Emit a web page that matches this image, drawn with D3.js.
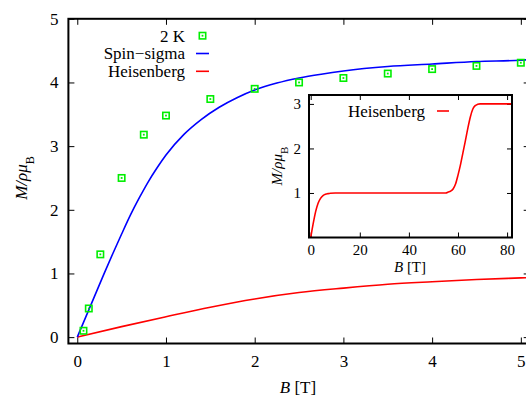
<!DOCTYPE html>
<html>
<head>
<meta charset="utf-8">
<script src="https://cdn.jsdelivr.net/npm/d3@7"></script>
<style>
  html, body { margin: 0; padding: 0; background: #fff; }
  svg { display: block; }
  svg text { font-family: "Liberation Serif", "Times New Roman", serif; }
</style>
</head>
<body>
<svg id="chart" width="526" height="396"></svg>
<script>
// ---- Main panel: magnetization vs field up to 5 T ----
const xTicks = [0, 1, 2, 3, 4, 5];
const yTicks = [0, 1, 2, 3, 4, 5];

// measured magnetization at 2 K
const dataB = [0.07, 0.13, 0.26, 0.5, 0.75, 1.0, 1.5, 2.0, 2.5, 3.0, 3.5, 4.0, 4.5, 5.0];
const dataM = [0.10, 0.45, 1.30, 2.50, 3.18, 3.48, 3.74, 3.90, 4.00, 4.07, 4.14, 4.21, 4.26, 4.31];

// spin-sigma model curve
const sigmaB = [0, 0.1, 0.2, 0.3, 0.4, 0.5, 0.6, 0.7, 0.8, 0.9, 1.0, 1.2, 1.4, 1.6, 1.8, 2.0, 2.25, 2.5, 2.75, 3.0, 3.5, 4.0, 4.5, 5.0, 5.1];
const sigmaM = [0, 0.33, 0.66, 0.99, 1.31, 1.62, 1.92, 2.19, 2.44, 2.66, 2.86, 3.18, 3.42, 3.61, 3.76, 3.88, 3.99, 4.07, 4.13, 4.18, 4.25, 4.29, 4.33, 4.35, 4.36];

// Heisenberg model curve (low-field part)
const heisB = [0, 0.5, 1.0, 1.5, 2.0, 2.5, 3.0, 3.5, 4.0, 4.5, 5.0, 5.1];
const heisM = [0, 0.165, 0.32, 0.47, 0.60, 0.70, 0.77, 0.83, 0.87, 0.905, 0.93, 0.935];

// ---- Inset: Heisenberg model up to 82 T ----
const insetXTicks = [0, 20, 40, 60, 80];
const insetYTicks = [1, 2, 3];
const insetB = [0, 0.5, 1, 1.5, 2, 3, 4, 5, 6, 7, 8, 10, 20, 30, 40, 50, 55, 56, 57, 58, 59, 60, 61, 62, 63, 64, 65, 66, 67, 68, 69, 75, 82];
const insetM = [0, 0.16, 0.31, 0.45, 0.58, 0.77, 0.88, 0.94, 0.97, 0.985, 0.995, 1.0, 1.0, 1.0, 1.0, 1.0, 1.0, 1.02, 1.04, 1.09, 1.2, 1.4, 1.63, 1.9, 2.17, 2.45, 2.7, 2.88, 2.96, 2.99, 3.0, 3.0, 3.0];

const svg = d3.select("#chart");
const BLUE = "#0000ff", RED = "#ff0000", GREEN = "#00ee00";
const SERIF = "'Liberation Serif', 'Times New Roman', serif";
const fmt = d3.format("d");

// ---------- main panel ----------
const M = { left: 68.4, right: 529.7, top: 18.8, bottom: 343.5 };
const x = d3.scaleLinear().domain([-0.1, 5.1]).range([M.left, M.right]);
const y = d3.scaleLinear().domain([-0.1, 5]).range([M.bottom, M.top]);

svg.append("clipPath").attr("id", "mainClip")
  .append("rect").attr("x", M.left).attr("y", M.top)
  .attr("width", M.right - M.left).attr("height", M.bottom - M.top);

function styleAxis(g, fontSize) {
  g.attr("font-size", fontSize).attr("font-family", SERIF);
  g.select(".domain").remove();
  g.selectAll(".tick line").attr("stroke", "#000").attr("stroke-width", 1);
  g.selectAll(".tick text").attr("fill", "#000")
    .style("font-family", SERIF).style("font-size", fontSize + "px");
}

svg.append("g").attr("transform", `translate(0,${M.bottom})`)
  .call(d3.axisBottom(x).tickValues(xTicks).tickFormat(fmt).tickSize(-6).tickSizeOuter(0).tickPadding(11))
  .call(g => styleAxis(g, 17));
svg.append("g").attr("transform", `translate(${M.left},0)`)
  .call(d3.axisLeft(y).tickValues(yTicks).tickFormat(fmt).tickSize(-6).tickSizeOuter(0).tickPadding(10))
  .call(g => styleAxis(g, 17));
svg.append("g").attr("transform", `translate(0,${M.top})`)
  .call(d3.axisTop(x).tickValues(xTicks).tickSize(-6).tickSizeOuter(0).tickFormat(""))
  .call(g => styleAxis(g, 17));
svg.append("g").attr("transform", `translate(${M.right},0)`)
  .call(d3.axisRight(y).tickValues(yTicks).tickSize(-6).tickSizeOuter(0).tickFormat(""))
  .call(g => styleAxis(g, 17));

const plot = svg.append("g").attr("clip-path", "url(#mainClip)");
const lineMain = d3.line().x(d => x(d[0])).y(d => y(d[1])).curve(d3.curveMonotoneX);

plot.append("path").datum(d3.zip(heisB, heisM))
  .attr("d", lineMain).attr("fill", "none").attr("stroke", RED).attr("stroke-width", 1.6);
plot.append("path").datum(d3.zip(sigmaB, sigmaM))
  .attr("d", lineMain).attr("fill", "none").attr("stroke", BLUE).attr("stroke-width", 1.6);

function marker(g, cx, cy) {
  g.append("rect").attr("x", cx - 3.2).attr("y", cy - 3.2).attr("width", 6.4).attr("height", 6.4)
    .attr("fill", "none").attr("stroke", GREEN).attr("stroke-width", 1.6);
  g.append("rect").attr("x", cx - 0.9).attr("y", cy - 0.9).attr("width", 1.8).attr("height", 1.8)
    .attr("fill", GREEN);
}
const pts = plot.append("g");
d3.zip(dataB, dataM).forEach(d => marker(pts, x(d[0]), y(d[1])));

svg.append("rect").attr("x", M.left).attr("y", M.top)
  .attr("width", M.right - M.left).attr("height", M.bottom - M.top)
  .attr("fill", "none").attr("stroke", "#000").attr("stroke-width", 2);

// legend
const legend = svg.append("g").style("font-size", "17px").attr("fill", "#000");
const legRows = [
  { label: "2 K", kind: "pt" },
  { label: "Spin\u2212sigma", kind: "line", color: BLUE },
  { label: "Heisenberg", kind: "line", color: RED }
];
legRows.forEach((r, i) => {
  const by = 41.5 + i * 17.8, cy = by - 5.8;
  legend.append("text").attr("x", 185).attr("y", by).attr("text-anchor", "end").text(r.label);
  if (r.kind === "pt") marker(legend, 202.5, cy);
  else legend.append("line").attr("x1", 196).attr("x2", 209).attr("y1", cy).attr("y2", cy)
    .attr("stroke", r.color).attr("stroke-width", 1.6);
});

// axis titles
const xt = svg.append("text").attr("x", 298).attr("y", 393).attr("text-anchor", "middle")
  .style("font-size", "17px");
xt.append("tspan").style("font-style", "italic").text("B");
xt.append("tspan").text(" [T]");

const yt = svg.append("text").attr("transform", "translate(27,178) rotate(-90)")
  .attr("text-anchor", "middle").style("font-size", "17px");
yt.append("tspan").style("font-style", "italic").text("M/\u03c1\u03bc");
yt.append("tspan").attr("baseline-shift", "sub").style("font-size", "12px").text("B");

// ---------- inset ----------
const I = { left: 309, right: 512, top: 95, bottom: 237.5 };
const ix = d3.scaleLinear().domain([-0.7, 82]).range([I.left, I.right]);
const iy = d3.scaleLinear().domain([0, 3.2]).range([I.bottom, I.top]);

svg.append("rect").attr("x", I.left).attr("y", I.top)
  .attr("width", I.right - I.left).attr("height", I.bottom - I.top).attr("fill", "#fff");

svg.append("clipPath").attr("id", "insetClip")
  .append("rect").attr("x", I.left).attr("y", I.top)
  .attr("width", I.right - I.left).attr("height", I.bottom - I.top);

svg.append("g").attr("transform", `translate(0,${I.bottom})`)
  .call(d3.axisBottom(ix).tickValues(insetXTicks).tickFormat(fmt).tickSize(-5).tickSizeOuter(0).tickPadding(7))
  .call(g => styleAxis(g, 15));
svg.append("g").attr("transform", `translate(${I.left},0)`)
  .call(d3.axisLeft(iy).tickValues(insetYTicks).tickFormat(fmt).tickSize(-5).tickSizeOuter(0).tickPadding(8))
  .call(g => styleAxis(g, 15));
svg.append("g").attr("transform", `translate(0,${I.top})`)
  .call(d3.axisTop(ix).tickValues(insetXTicks).tickSize(-5).tickSizeOuter(0).tickFormat(""))
  .call(g => styleAxis(g, 15));
svg.append("g").attr("transform", `translate(${I.right},0)`)
  .call(d3.axisRight(iy).tickValues(insetYTicks).tickSize(-5).tickSizeOuter(0).tickFormat(""))
  .call(g => styleAxis(g, 15));

const lineInset = d3.line().x(d => ix(d[0])).y(d => iy(d[1])).curve(d3.curveMonotoneX);
svg.append("g").attr("clip-path", "url(#insetClip)")
  .append("path").datum(d3.zip(insetB, insetM))
  .attr("d", lineInset).attr("fill", "none").attr("stroke", RED).attr("stroke-width", 1.6);

svg.append("rect").attr("x", I.left).attr("y", I.top)
  .attr("width", I.right - I.left).attr("height", I.bottom - I.top)
  .attr("fill", "none").attr("stroke", "#000").attr("stroke-width", 2);

svg.append("text").attr("x", 425).attr("y", 116.5).attr("text-anchor", "end")
  .style("font-size", "17px").text("Heisenberg");
svg.append("line").attr("x1", 437).attr("x2", 449).attr("y1", 111).attr("y2", 111)
  .attr("stroke", RED).attr("stroke-width", 1.6);

const ixt = svg.append("text").attr("x", 410).attr("y", 271.5).attr("text-anchor", "middle")
  .style("font-size", "15px");
ixt.append("tspan").style("font-style", "italic").text("B");
ixt.append("tspan").text(" [T]");

const iyt = svg.append("text").attr("transform", "translate(282,166) rotate(-90)")
  .attr("text-anchor", "middle").style("font-size", "15px");
iyt.append("tspan").style("font-style", "italic").text("M/\u03c1\u03bc");
iyt.append("tspan").attr("baseline-shift", "sub").style("font-size", "11px").text("B");
</script>
</body>
</html>
